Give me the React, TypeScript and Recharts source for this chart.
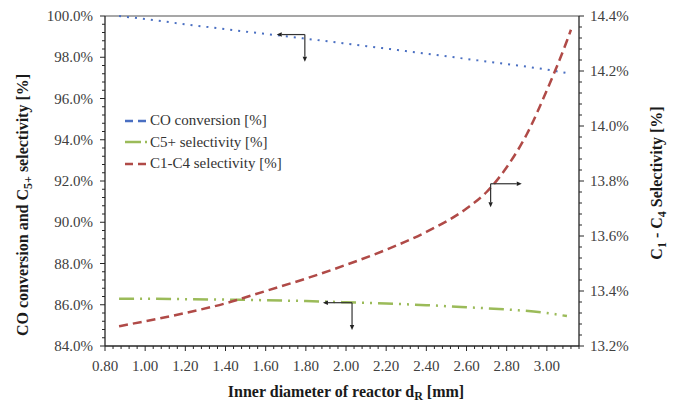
import React from 'react';
import { LineChart, Line, XAxis, YAxis, ReferenceLine, Legend } from 'recharts';

// inner diameter of reactor [mm]
const xCO = [0.87, 1.0, 1.2, 1.4, 1.6, 1.8, 2.0, 2.2, 2.4, 2.6, 2.8, 3.0, 3.12];
const coConversion = [100.0, 99.85, 99.6, 99.36, 99.13, 98.9, 98.66, 98.42, 98.17, 97.92, 97.67, 97.4, 97.2];

const xC5 = [0.87, 1.0, 1.2, 1.4, 1.6, 1.8, 2.0, 2.2, 2.4, 2.6, 2.8, 3.0, 3.1];
const c5Selectivity = [86.29, 86.29, 86.27, 86.25, 86.22, 86.18, 86.12, 86.06, 85.98, 85.88, 85.77, 85.6, 85.45];

const xC14 = [0.87, 1.0, 1.2, 1.4, 1.6, 1.8, 2.0, 2.2, 2.4, 2.6, 2.7, 2.8, 2.9, 3.0, 3.1, 3.12];
const c14Selectivity = [13.272, 13.29, 13.32, 13.355, 13.4, 13.445, 13.495, 13.55, 13.615, 13.7, 13.76, 13.85, 13.97, 14.13, 14.31, 14.35];

const xMajor = [0.8, 1.0, 1.2, 1.4, 1.6, 1.8, 2.0, 2.2, 2.4, 2.6, 2.8, 3.0];
const leftMajor = [84, 86, 88, 90, 92, 94, 96, 98, 100];
const rightMajor = [13.2, 13.4, 13.6, 13.8, 14.0, 14.2, 14.4];

// arrow annotations: [corner, horizontal end, vertical end]
const coArrow = [{ x: 1.795, y: 99.1 }, { x: 1.655, y: 99.1 }, { x: 1.795, y: 97.78 }];
const c5Arrow = [{ x: 2.03, y: 86.1 }, { x: 1.885, y: 86.1 }, { x: 2.03, y: 84.78 }];
const c14Arrow = [{ x: 2.72, y: 13.79 }, { x: 2.875, y: 13.79 }, { x: 2.72, y: 13.705 }];

const zip = (xs: number[], ys: number[]) => xs.map((x, i) => ({ x, y: ys[i] }));
const coData = zip(xCO, coConversion);
const c5Data = zip(xC5, c5Selectivity);
const c14Data = zip(xC14, c14Selectivity);

const withMinor = (min: number, max: number, step: number) => {
  const out: number[] = [];
  const n = Math.round((max - min) / step);
  for (let i = 0; i <= n; i++) out.push(Math.round((min + i * step) * 1000) / 1000);
  return out;
};
const xTicks = withMinor(0.8, 3.16, 0.04);
const leftTicks = withMinor(84, 100, 0.4);
const rightTicks = withMinor(13.2, 14.4, 0.04);

const isMajor = (v: number, list: number[]) => list.some((m) => Math.abs(m - v) < 1e-6);

const FONT = '"Liberation Serif", "Times New Roman", serif';
const AXIS = '#262626';
const TEXT = '#404040';

const XTick = (p: any) => {
  const major = isMajor(p.payload.value, xMajor);
  return (
    <g>
      <line x1={p.x} y1={p.y} x2={p.x} y2={p.y + (major ? 5 : 3)} stroke={AXIS} />
      {major && (
        <text x={p.x} y={p.y + 25} textAnchor="middle" fontFamily={FONT} fontSize={15} fill={TEXT}>
          {p.payload.value.toFixed(2)}
        </text>
      )}
    </g>
  );
};

const LeftTick = (p: any) => {
  const major = isMajor(p.payload.value, leftMajor);
  return (
    <g>
      <line x1={p.x - (major ? 5 : 3)} y1={p.y} x2={p.x} y2={p.y} stroke={AXIS} />
      {major && (
        <text x={p.x - 12} y={p.y + 5} textAnchor="end" fontFamily={FONT} fontSize={15} fill={TEXT}>
          {p.payload.value.toFixed(1) + '%'}
        </text>
      )}
    </g>
  );
};

const RightTick = (p: any) => {
  const major = isMajor(p.payload.value, rightMajor);
  return (
    <g>
      <line x1={p.x} y1={p.y} x2={p.x + (major ? 5 : 3)} y2={p.y} stroke={AXIS} />
      {major && (
        <text x={p.x + 11} y={p.y + 5} textAnchor="start" fontFamily={FONT} fontSize={15} fill={TEXT}>
          {p.payload.value.toFixed(1) + '%'}
        </text>
      )}
    </g>
  );
};

const Arrow = (p: any) => {
  const { x1, y1, x2, y2 } = p;
  const a = Math.atan2(y2 - y1, x2 - x1);
  const L = 5, W = 2.2;
  const bx = x2 - L * Math.cos(a), by = y2 - L * Math.sin(a);
  const px = -Math.sin(a) * W, py = Math.cos(a) * W;
  return (
    <g>
      <line x1={x1} y1={y1} x2={bx} y2={by} stroke="#333" strokeWidth={1.2} />
      <polygon points={`${x2},${y2} ${bx + px},${by + py} ${bx - px},${by - py}`} fill="#222" />
    </g>
  );
};

const arrows = (pts: { x: number; y: number }[], axis: string, key: string) => [
  <ReferenceLine key={key + 'h'} yAxisId={axis} segment={[pts[0], pts[1]]} shape={Arrow} ifOverflow="visible" />,
  <ReferenceLine key={key + 'v'} yAxisId={axis} segment={[pts[0], pts[2]]} shape={Arrow} ifOverflow="visible" />,
];

const legendItems = [
  { label: 'CO conversion [%]', color: '#4a6fc2', dash: '8 5' },
  { label: 'C5+ selectivity [%]', color: '#9bbb59', dash: '16 4 2 4' },
  { label: 'C1-C4 selectivity [%]', color: '#b04a47', dash: '8 5' },
];

const LegendBox = () => (
  <div style={{ fontFamily: FONT, fontSize: 15, color: '#333' }}>
    {legendItems.map((it) => (
      <div key={it.label} style={{ display: 'flex', alignItems: 'center', height: 21.5 }}>
        <svg width={26} height={10}>
          <line x1={1} y1={5} x2={23} y2={5} stroke={it.color} strokeWidth={2.5} strokeDasharray={it.dash} />
        </svg>
        <span>{it.label}</span>
      </div>
    ))}
  </div>
);

const titleStyle = { fontFamily: FONT, fontSize: 16, fontWeight: 'bold' as const, fill: '#1a1a1a' };

const LeftTitle = () => (
  <text transform="translate(28, 205) rotate(-90)" textAnchor="middle" {...titleStyle}>
    CO conversion and C<tspan fontSize={12} dy={4}>5+</tspan>
    <tspan dy={-4}> selectivity [%]</tspan>
  </text>
);

const RightTitle = () => (
  <text transform="translate(662, 183) rotate(-90)" textAnchor="middle" {...titleStyle}>
    C<tspan fontSize={12} dy={4}>1</tspan>
    <tspan dy={-4}> - C</tspan>
    <tspan fontSize={12} dy={4}>4</tspan>
    <tspan dy={-4}> Selectivity [%]</tspan>
  </text>
);

const BottomTitle = () => (
  <text x={346} y={397} textAnchor="middle" {...titleStyle}>
    Inner diameter of reactor d<tspan fontSize={12} dy={3}>R</tspan>
    <tspan dy={-3}> [mm]</tspan>
  </text>
);

export default function App() {
  return (
    <div style={{ position: 'absolute', left: 0, top: 0, background: '#fff' }}>
      <LineChart width={679} height={406} margin={{ top: 16, right: 0, bottom: 0, left: 0 }}>
        <XAxis
          dataKey="x"
          type="number"
          domain={[0.8, 3.16]}
          ticks={xTicks}
          interval={0}
          allowDataOverflow
          height={60}
          tickSize={0}
          tickMargin={0}
          tick={<XTick />}
          stroke={AXIS}
          strokeWidth={1.3}
          label={{ content: () => <BottomTitle /> }}
        />
        <YAxis
          yAxisId="left"
          orientation="left"
          type="number"
          domain={[84, 100]}
          ticks={leftTicks}
          interval={0}
          width={105}
          tickSize={0}
          tickMargin={0}
          tick={<LeftTick />}
          stroke={AXIS}
          strokeWidth={1.3}
          label={{ content: () => <LeftTitle /> }}
        />
        <YAxis
          yAxisId="right"
          orientation="right"
          type="number"
          domain={[13.2, 14.4]}
          ticks={rightTicks}
          interval={0}
          width={100}
          tickSize={0}
          tickMargin={0}
          tick={<RightTick />}
          stroke={AXIS}
          strokeWidth={1.3}
          label={{ content: () => <RightTitle /> }}
        />
        <ReferenceLine yAxisId="left" y={100} stroke="#8a8a8a" strokeWidth={1.5} />
        <Line yAxisId="left" data={coData} dataKey="y" type="monotone" stroke="#4a6fc2" strokeWidth={2} strokeDasharray="2 6" dot={false} isAnimationActive={false} />
        <Line yAxisId="left" data={c5Data} dataKey="y" type="monotone" stroke="#9bbb59" strokeWidth={2.5} strokeDasharray="15 6 2 6 2 6" dot={false} isAnimationActive={false} />
        <Line yAxisId="right" data={c14Data} dataKey="y" type="monotone" stroke="#b04a47" strokeWidth={2.5} strokeDasharray="9 5" dot={false} isAnimationActive={false} />
        {arrows(coArrow, 'left', 'co')}
        {arrows(c5Arrow, 'left', 'c5')}
        {arrows(c14Arrow, 'right', 'c14')}
        <Legend
          layout="vertical"
          align="center"
          verticalAlign="middle"
          content={() => <LegendBox />}
          wrapperStyle={{ left: 124, top: 110, width: 'auto' }}
        />
      </LineChart>
    </div>
  );
}
